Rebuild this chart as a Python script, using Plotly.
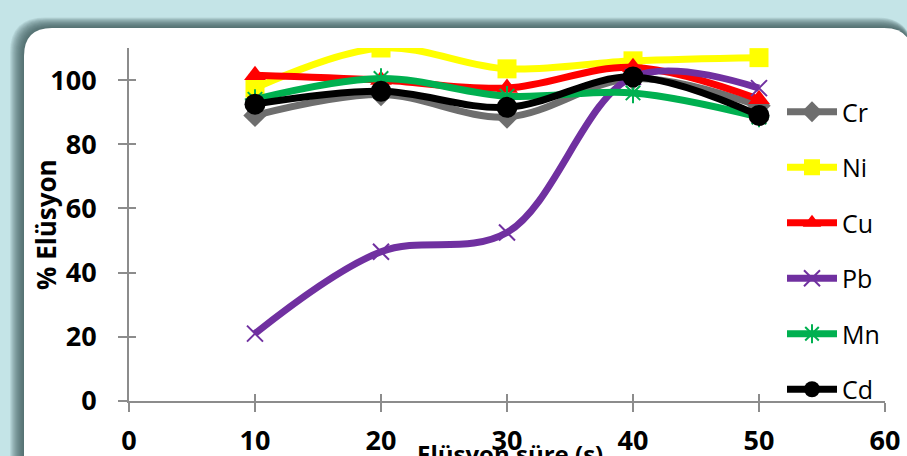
import plotly.graph_objects as go

# Elution time (s) and % elution per metal
times = [10, 20, 30, 40, 50]
cr = [89, 95.5, 88.5, 100.5, 92]
ni = [97.5, 110, 103.5, 106, 107]
cu = [101.5, 100, 97.5, 104, 94]
pb = [21, 46.5, 52.5, 101, 97.5]
mn = [94, 100.5, 95, 96, 88.5]
cd = [92.5, 96.5, 91.5, 101, 89]

x_ticks = [0, 10, 20, 30, 40, 50, 60]
y_ticks = [0, 20, 40, 60, 80, 100]

W, H = 907, 456
ML, MR, MT, MB = 129, 22, 48, 55
PW, PH = W - ML - MR, H - MT - MB


def px(x):
    return (x - ML) / PW


def py(y):
    return (H - MB - y) / PH


def rounded_panel(left, top, right, bottom, r):
    """Rounded-corner rectangle path in paper coordinates (pixel inputs)."""
    L, R = px(left), px(right)
    T, B = py(top), py(bottom)
    rx, ry = r / PW, r / PH
    return (f"M{L},{B} L{L},{T - ry} Q{L},{T} {L + rx},{T} "
            f"L{R - rx},{T} Q{R},{T} {R},{T - ry} L{R},{B} Z")


shapes = []
# soft shadow to the upper-left of the card
for d in range(14, 0, -1):
    shapes.append(dict(
        type="path", xref="paper", yref="paper", layer="below",
        path=rounded_panel(24 - d, 28 - d * 0.75, 912, 500, 28 + d * 0.5),
        fillcolor="rgba(60,88,92,0.10)", line=dict(width=0)))
# white card
shapes.append(dict(
    type="path", xref="paper", yref="paper", layer="below",
    path=rounded_panel(24, 28, 912, 500, 28),
    fillcolor="white", line=dict(width=0)))

series = [
    ("Cr", cr, "#6E6E6E", dict(symbol="diamond", size=18, color="#6E6E6E")),
    ("Ni", ni, "#FFFF00", dict(symbol="square", size=19, color="#FFFF00")),
    ("Cu", cu, "#FF0000", dict(symbol="triangle-up", size=19, color="#FF0000")),
    ("Pb", pb, "#7030A0", dict(symbol="x-thin-open", size=16, color="#7030A0",
                               line=dict(width=2, color="#7030A0"))),
    ("Mn", mn, "#00B050", dict(symbol="asterisk-open", size=17, color="#00B050",
                               line=dict(width=2, color="#00B050"))),
    ("Cd", cd, "#000000", dict(symbol="circle", size=21, color="#000000")),
]

fig = go.Figure()
for name, vals, col, mk in series:
    fig.add_trace(go.Scatter(
        x=times, y=vals, name=name, legendgroup=name,
        mode="lines+markers",
        line=dict(color=col, width=7, shape="spline", smoothing=1.0),
        marker=mk))

tick_font = dict(family="Open Sans", size=27, color="black", weight="bold")
axis_common = dict(showline=True, linecolor="#8C8C8C", linewidth=2,
                   showgrid=False, zeroline=False, ticks="outside",
                   ticklen=9, tickwidth=2, tickcolor="#8C8C8C",
                   tickfont=tick_font, automargin=False)

fig.update_layout(
    width=W, height=H,
    margin=dict(l=ML, r=MR, t=MT, b=MB, autoexpand=False),
    paper_bgcolor="#C4E4E7",
    plot_bgcolor="rgba(0,0,0,0)",
    shapes=shapes,
    xaxis=dict(range=[0, 60], tickvals=x_ticks, ticklabelstandoff=6,
               **axis_common),
    yaxis=dict(range=[0, 110], tickvals=y_ticks, ticklabelstandoff=16,
               **axis_common),
    # inner half of the crossing tick marks
    xaxis2=dict(range=[0, 60], overlaying="x", anchor="y", side="bottom",
                tickvals=x_ticks, ticks="inside", ticklen=7, tickwidth=2,
                tickcolor="#8C8C8C", showticklabels=False, showgrid=False,
                zeroline=False, showline=False, automargin=False),
    yaxis2=dict(range=[0, 110], overlaying="y", anchor="x", side="left",
                tickvals=y_ticks, ticks="inside", ticklen=7, tickwidth=2,
                tickcolor="#8C8C8C", showticklabels=False, showgrid=False,
                zeroline=False, showline=False, automargin=False),
    legend=dict(x=px(782), y=py(89), xanchor="left", yanchor="top",
                bgcolor="rgba(0,0,0,0)", tracegroupgap=20,
                font=dict(family="Open Sans", size=25, color="black"),
                itemwidth=50),
    showlegend=True,
    annotations=[
        dict(text="% Elüsyon", xref="paper", yref="paper",
             x=px(46), y=py(225), textangle=-90, showarrow=False,
             xanchor="center", yanchor="middle",
             font=dict(family="Open Sans", size=26, color="black",
                       weight="bold")),
        dict(text="Elüsyon süre (s)", xref="paper", yref="paper",
             x=px(510), y=py(453), showarrow=False,
             xanchor="center", yanchor="middle",
             font=dict(family="Open Sans", size=24, color="black",
                       weight="bold")),
    ],
)

# placeholder trace so the overlay axes are rendered
fig.add_trace(go.Scatter(x=[None], y=[None], xaxis="x2", yaxis="y2",
                         showlegend=False, hoverinfo="skip"))

fig.write_html("out.html")
